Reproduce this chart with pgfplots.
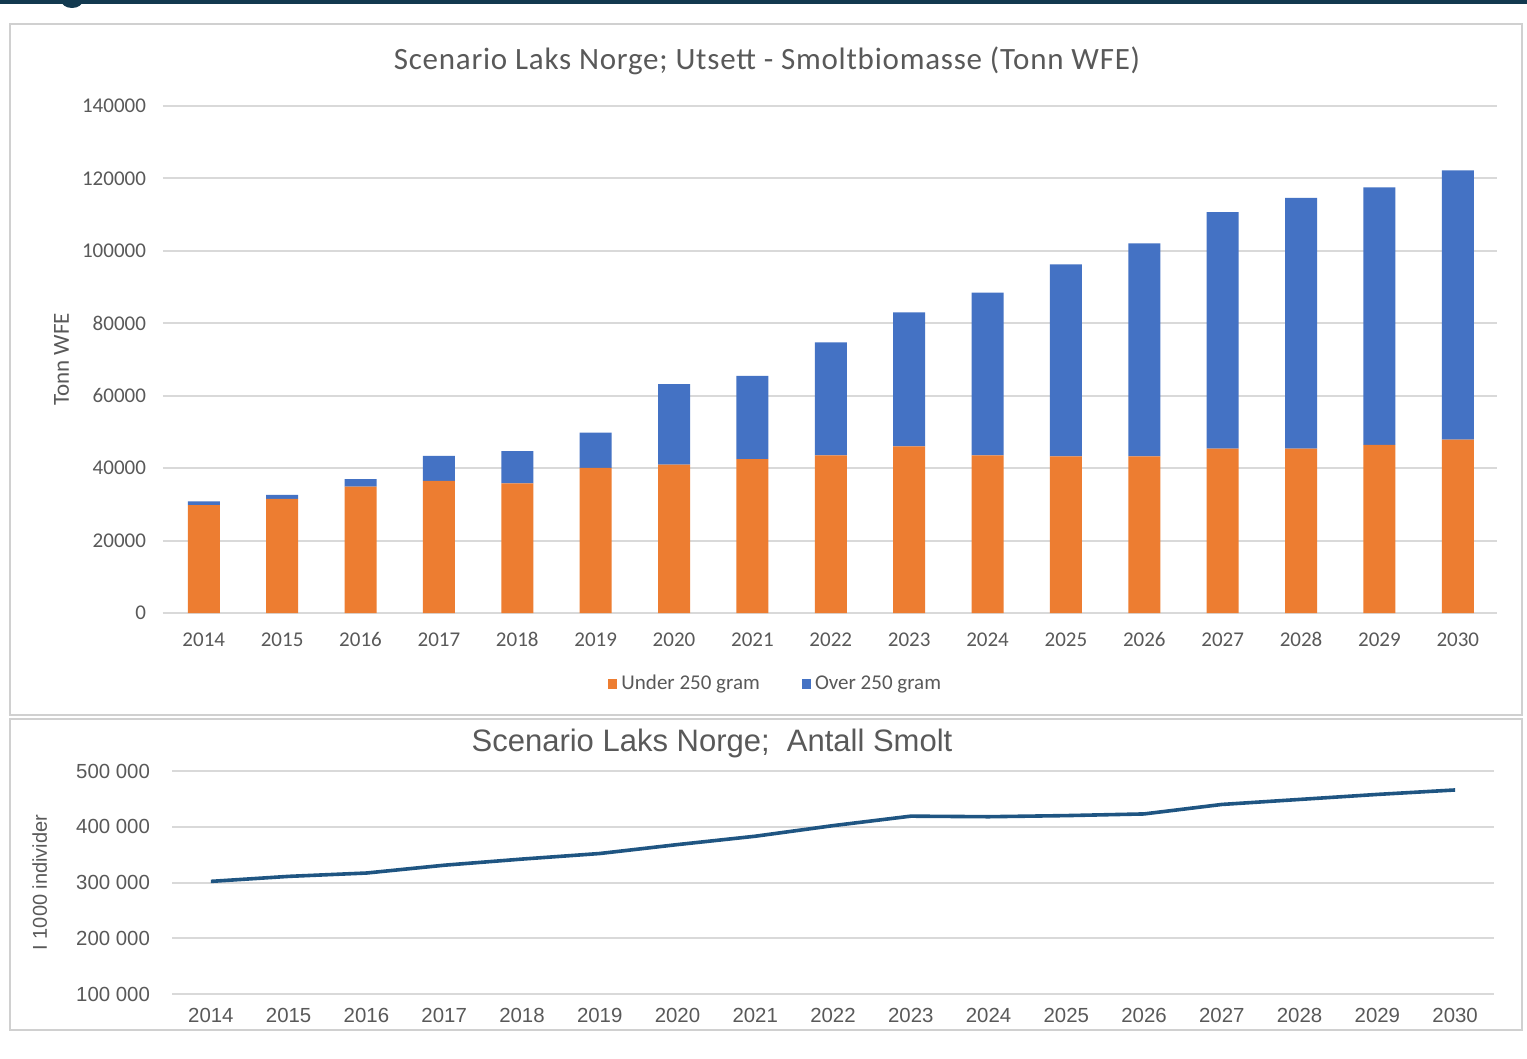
\documentclass[border=0pt]{standalone}
\usepackage{fontspec}
\setmainfont{Carlito}
\newfontfamily\arialf{Liberation Sans}
\newfontfamily\titlef[LetterSpace=2.5]{Carlito}
\usepackage{pgfplots}
\pgfplotsset{compat=1.18}
\definecolor{orng}{HTML}{ED7D31}
\definecolor{blu}{HTML}{4472C4}
\definecolor{lin}{HTML}{1F5582}
\definecolor{grd}{HTML}{D9D9D9}
\definecolor{txt}{HTML}{595959}
\definecolor{stripe}{HTML}{12394F}
\definecolor{frame}{HTML}{D0D0D0}

\pgfplotstableread{
x under over
0 29800 1000
1 31500 1100
2 34900 2100
3 36500 6900
4 35800 8900
5 40100 9700
6 41000 22200
7 42500 23000
8 43500 31200
9 46000 37000
10 43500 45000
11 43250 53050
12 43250 58850
13 45400 65300
14 45400 69200
15 46400 71100
16 47900 74300
}\biomass

\pgfplotstableread{
x smolt
0 302000
1 311000
2 317000
3 331000
4 342000
5 352000
6 368000
7 383000
8 402000
9 419000
10 418000
11 420000
12 423000
13 440000
14 449000
15 458000
16 466000
}\smolt

\begin{document}
\begin{tikzpicture}
\begin{scope}[x=0.5pt,y=-0.5pt]
\useasboundingbox (0,0) rectangle (1527,1059);
\fill[white] (0,0) rectangle (1527,1059);
\begin{scope}
\clip (0,0) rectangle (1527,20);
\fill[stripe] (72,0) ellipse [x radius=11, y radius=8];
\end{scope}
\fill[stripe] (0,0) rectangle (1527,4);
\draw[frame, line width=1.2pt] (10,24) rectangle (1522,715);
\draw[frame, line width=1.2pt] (10,719) rectangle (1522,1030);
\node[text=txt, font=\titlef\fontsize{15.5}{17}\selectfont] at (767,61) {Scenario Laks Norge; Utsett - Smoltbiomasse (Tonn WFE)};
\node[text=txt, font=\arialf\fontsize{15.5}{17}\selectfont] at (712,743) {Scenario Laks Norge;\ \ Antall Smolt};
\end{scope}

\begin{axis}[
  at={(81.5pt,-306.5pt)}, anchor=south west,
  scale only axis, width=667pt, height=253.5pt,
  ybar stacked, bar width=16pt,
  xmin=-0.52, xmax=16.5, ymin=0, ymax=140000,
  scaled y ticks=false,
  xtick={0,...,16},
  xticklabels={2014,2015,2016,2017,2018,2019,2020,2021,2022,2023,2024,2025,2026,2027,2028,2029,2030},
  ytick={0,20000,40000,60000,80000,100000,120000,140000},
  yticklabels={0,20000,40000,60000,80000,100000,120000,140000},
  ymajorgrids, grid style={grd, line width=1pt},
  axis x line*=bottom, axis y line*=left,
  x axis line style={grd, line width=1pt},
  y axis line style={draw=none},
  major tick length=0pt,
  tick label style={text=txt, font=\fontsize{10.5}{12}\selectfont},
  yticklabel style={xshift=-5pt},
  xticklabel style={yshift=-6pt, text height=7pt, text depth=1pt},
  ylabel={Tonn WFE}, ylabel style={text=txt, font=\fontsize{11.5}{13}\selectfont, at={(axis description cs:-0.076,0.5)}, anchor=center},
  legend style={at={(0.46,-0.14)}, anchor=center, draw=none, legend columns=2, font=\fontsize{10.5}{12}\selectfont, text=txt, /tikz/every even column/.append style={column sep=19pt}},
  legend image code/.code={\fill[#1] (0pt,-2.3pt) rectangle (4.6pt,2.3pt);},
]
\addplot[fill=orng, draw=none] table[x=x, y=under] {\biomass};
\addlegendentry{Under 250 gram}
\addplot[fill=blu, draw=none] table[x=x, y=over] {\biomass};
\addlegendentry{Over 250 gram}
\end{axis}

\begin{axis}[
  at={(86pt,-497pt)}, anchor=south west,
  scale only axis, width=661pt, height=111.5pt,
  xmin=-0.5, xmax=16.5, ymin=100000, ymax=500000,
  scaled y ticks=false,
  xtick={0,...,16},
  xticklabels={2014,2015,2016,2017,2018,2019,2020,2021,2022,2023,2024,2025,2026,2027,2028,2029,2030},
  ytick={100000,200000,300000,400000,500000},
  yticklabels={100 000,200 000,300 000,400 000,500 000},
  ymajorgrids, grid style={grd, line width=1pt},
  axis x line*=bottom, axis y line*=left,
  x axis line style={grd, line width=1pt},
  y axis line style={draw=none},
  major tick length=0pt,
  tick label style={text=txt, font=\arialf\fontsize{10.2}{11}\selectfont},
  yticklabel style={xshift=-7.5pt},
  xticklabel style={yshift=-3pt, text height=7.5pt, text depth=1pt},
  ylabel={I 1000 individer}, ylabel style={text=txt, font=\arialf\fontsize{10}{12}\selectfont, at={(axis description cs:-0.1,0.5)}, anchor=center},
]
\addplot[lin, line width=1.8pt, no marks] table[x=x, y=smolt] {\smolt};
\end{axis}
\end{tikzpicture}
\end{document}
